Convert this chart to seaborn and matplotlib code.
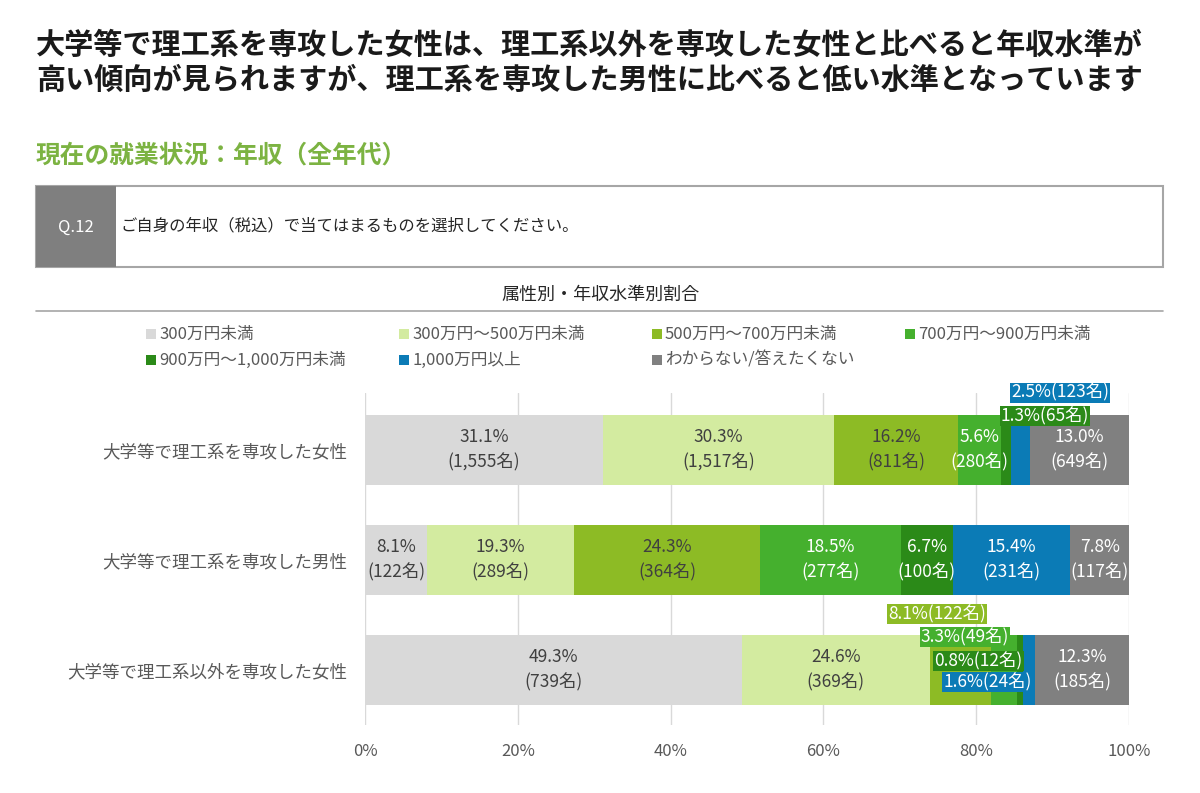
import matplotlib
matplotlib.use('Agg')
import matplotlib.pyplot as plt
from matplotlib.patches import Rectangle
from matplotlib.lines import Line2D
import seaborn as sns
import pandas as pd
import numpy as np

# ---------------- data ----------------
groups = ['大学等で理工系を専攻した女性', '大学等で理工系を専攻した男性', '大学等で理工系以外を専攻した女性']
bands = ['300万円未満', '300万円～500万円未満', '500万円～700万円未満', '700万円～900万円未満',
         '900万円～1,000万円未満', '1,000万円以上', 'わからない/答えたくない']
pct_f_stem = [31.1, 30.3, 16.2, 5.6, 1.3, 2.5, 13.0]
n_f_stem = [1555, 1517, 811, 280, 65, 123, 649]
pct_m_stem = [8.1, 19.3, 24.3, 18.5, 6.7, 15.4, 7.8]
n_m_stem = [122, 289, 364, 277, 100, 231, 117]
pct_f_other = [49.3, 24.6, 8.1, 3.3, 0.8, 1.6, 12.3]
n_f_other = [739, 369, 122, 49, 12, 24, 185]
xticks = [0, 20, 40, 60, 80, 100]

colors = ['#d9d9d9', '#d3eba0', '#8dbb25', '#45b02e', '#2b8a18', '#0b7bb6', '#808080']
text_colors = ['#404040', '#404040', '#404040', 'white', 'white', 'white', 'white']

W, H = 1200, 793
sns.set_theme(style='white')
plt.rcParams['font.family'] = ['Noto Sans CJK JP', 'DejaVu Sans']

fig = plt.figure(figsize=(W / 100, H / 100), dpi=100)
fig.patch.set_facecolor('white')

def fx(px):
    return px / W

def fy(py):
    return 1 - py / H

# ---------------- headings ----------------
fig.text(fx(36), fy(45), '大学等で理工系を専攻した女性は、理工系以外を専攻した女性と比べると年収水準が',
         fontsize=21, fontweight='bold', color='#1a1a1a', va='center', ha='left')
fig.text(fx(36), fy(80), '高い傾向が見られますが、理工系を専攻した男性に比べると低い水準となっています',
         fontsize=21, fontweight='bold', color='#1a1a1a', va='center', ha='left')
fig.text(fx(36), fy(156), '現在の就業状況：年収（全年代）', fontsize=17.8, fontweight='bold',
         color='#7cb342', va='center', ha='left')

# question box
fig.patches.append(Rectangle((fx(36), fy(267)), fx(1163 - 36), (267 - 186) / H, transform=fig.transFigure,
                             facecolor='white', edgecolor='#a6a6a6', linewidth=1.5))
fig.patches.append(Rectangle((fx(36), fy(267)), fx(116 - 36), (267 - 186) / H, transform=fig.transFigure,
                             facecolor='#7f7f7f', edgecolor='none'))
fig.text(fx(76), fy(227), 'Q.12', fontsize=12, color='white', va='center', ha='center')
fig.text(fx(120), fy(226), 'ご自身の年収（税込）で当てはまるものを選択してください。', fontsize=11.8,
         color='#262626', va='center', ha='left')

# chart title & rule
fig.text(fx(600), fy(295), '属性別・年収水準別割合', fontsize=13, color='#262626', va='center', ha='center')
fig.lines.append(Line2D([fx(36), fx(1163)], [fy(311), fy(311)], transform=fig.transFigure,
                        color='#a6a6a6', linewidth=1.2))

# legend (manual, fixed column grid)
leg_x = [146, 399, 652, 905]
leg_y = [334, 360]
for i, lab in enumerate(bands):
    r, c = divmod(i, 4)
    x0, y0 = leg_x[c], leg_y[r]
    fig.patches.append(Rectangle((fx(x0), fy(y0 + 5)), fx(10), 10 / H, transform=fig.transFigure,
                                 facecolor=colors[i], edgecolor='none'))
    fig.text(fx(x0 + 13), fy(y0), lab, fontsize=12, color='#595959', va='center', ha='left')

# ---------------- chart ----------------
ax = fig.add_axes([fx(365), fy(725), fx(764), 332 / H])

pcts = [pct_f_stem, pct_m_stem, pct_f_other]
ns = [n_f_stem, n_m_stem, n_f_other]
df = pd.DataFrame({'group': groups})
cum = np.cumsum(np.array(pcts), axis=1)
for i in range(len(bands)):
    df[f'cum{i}'] = cum[:, i]

for i in reversed(range(len(bands))):
    sns.barplot(data=df, x=f'cum{i}', y='group', color=colors[i], saturation=1, width=0.636,
                orient='h', errorbar=None, ax=ax, linewidth=0, zorder=2)

ax.set_xlim(0, 100)
ax.set_ylim(2.5, -0.518)
ax.set_xticks(xticks)
ax.set_xticklabels([f'{t}%' for t in xticks])
ax.set_xlabel('')
ax.set_ylabel('')
ax.grid(axis='x', color='#d9d9d9', linewidth=1, zorder=0)
ax.grid(axis='y', visible=False)
ax.set_axisbelow(True)
for s in ax.spines.values():
    s.set_visible(False)
ax.tick_params(axis='x', length=0, pad=13, labelsize=12, labelcolor='#595959')
ax.tick_params(axis='y', length=0, pad=13, labelsize=12.6, labelcolor='#595959')

# callouts: (row, band) -> (x centre, y centre) in data units
callouts = {
    (0, 4): (89.0, -0.31),
    (0, 5): (91.0, -0.52),
    (2, 2): (74.9, 1.49),
    (2, 3): (78.5, 1.70),
    (2, 4): (80.3, 1.92),
    (2, 5): (81.5, 2.11),
}

for r in range(3):
    left = 0.0
    for i in range(len(bands)):
        p = pcts[r][i]
        n = ns[r][i]
        c = left + p / 2
        if (r, i) in callouts:
            cx, cy = callouts[(r, i)]
            ax.text(cx, cy, f'{p:.1f}%({n:,}名)', ha='center', va='center', fontsize=12.5,
                    color='white', zorder=5,
                    bbox=dict(boxstyle='square,pad=0.06', facecolor=colors[i], edgecolor='none'))
        else:
            ax.text(c, r, f'{p:.1f}%\n({n:,}名)', ha='center', va='center', fontsize=12.5,
                    color=text_colors[i], linespacing=1.5, zorder=4)
        left += p

fig.savefig('out.png', dpi=100, facecolor='white')
